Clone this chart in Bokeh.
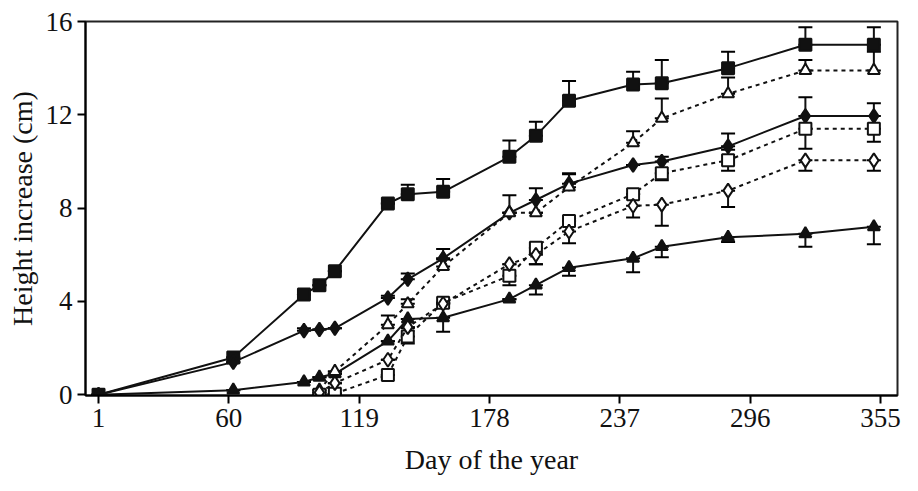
from bokeh.plotting import figure
from bokeh.models import Range1d, FixedTicker, Whisker, ColumnDataSource
from bokeh.embed import file_html
from bokeh.resources import INLINE

days = [1, 62, 94, 101, 108, 132, 141, 157, 187, 199, 214, 243, 256, 286, 321, 352]
days_late = [101, 108, 132, 141, 157, 187, 199, 214, 243, 256, 286, 321, 352]

sq_filled = [0, 1.6, 4.3, 4.7, 5.3, 8.2, 8.6, 8.7, 10.2, 11.1, 12.6, 13.3, 13.35, 14.0, 15.0, 15.0]
sq_filled_up = [0, 0, 0, 0, 0, 0, 0.4, 0.55, 0.7, 0.6, 0.85, 0.55, 1.0, 0.7, 0.75, 0.75]
sq_filled_dn = [0] * 16

dia_filled = [0, 1.4, 2.75, 2.8, 2.85, 4.15, 4.95, 5.85, 7.8, 8.35, 9.05, 9.85, 10.0, 10.65, 11.95, 11.95]
dia_filled_up = [0, 0, 0.1, 0, 0, 0.1, 0.25, 0.4, 0, 0.5, 0.4, 0, 0.2, 0.55, 0.8, 0.55]
dia_filled_dn = [0] * 16

tri_filled = [0, 0.2, 0.55, 0.75, 0.9, 2.3, 3.25, 3.3, 4.1, 4.7, 5.45, 5.85, 6.35, 6.75, 6.9, 7.2]
tri_filled_up = [0] * 16
tri_filled_dn = [0, 0, 0, 0, 0, 0, 0.4, 0.6, 0, 0.4, 0.35, 0.6, 0.45, 0.2, 0.55, 0.75]

tri_open = [0.2, 1.0, 3.0, 3.9, 5.5, 7.8, 7.8, 8.9, 10.8, 11.85, 12.9, 13.9, 13.9]
tri_open_up = [0, 0, 0.4, 0.2, 0.3, 0.75, 0, 0.6, 0.5, 0.85, 0.7, 0.45, 0.8]
tri_open_dn = [0] * 13

sq_open = [0.0, 0.05, 0.85, 2.5, 3.95, 5.1, 6.3, 7.45, 8.6, 9.5, 10.05, 11.4, 11.4]
sq_open_up = [0, 0, 0, 0, 0, 0, 0, 0, 0, 0, 0.45, 0, 0]
sq_open_dn = [0, 0, 0, 0.3, 0, 0.4, 0.7, 0, 0, 0.3, 0.45, 0.85, 0.55]

dia_open = [0.1, 0.5, 1.5, 2.9, 3.9, 5.6, 6.0, 7.0, 8.1, 8.15, 8.75, 10.05, 10.05]
dia_open_up = [0] * 13
dia_open_dn = [0, 0, 0, 0, 0, 0, 0.4, 0.5, 0.5, 0.9, 0.7, 0.45, 0.45]

x_ticks = [1, 60, 119, 178, 237, 296, 355]
y_ticks = [0, 4, 8, 12, 16]

p = figure(width=902, height=481, output_backend="svg", toolbar_location=None,
           x_range=Range1d(-4.9, 362.7), y_range=Range1d(-0.03, 16),
           min_border_left=85, min_border_right=5, min_border_top=21, min_border_bottom=86)
p.grid.visible = False
p.outline_line_color = "#222222"
p.outline_line_width = 2
p.background_fill_color = "white"

series = [
    (days, sq_filled, sq_filled_up, sq_filled_dn, "square", True, "solid", 12),
    (days, dia_filled, dia_filled_up, dia_filled_dn, "diamond", True, "solid", 14),
    (days, tri_filled, tri_filled_up, tri_filled_dn, "triangle", True, "solid", 12),
    (days_late, tri_open, tri_open_up, tri_open_dn, "triangle", False, "4 4", 12),
    (days_late, sq_open, sq_open_up, sq_open_dn, "square", False, "4 4", 12),
    (days_late, dia_open, dia_open_up, dia_open_dn, "diamond", False, "4 4", 14),
]

for xs, ys, up, dn, marker, filled, dash, size in series:
    src = ColumnDataSource(dict(x=xs, y=ys,
                                top=[v + u for v, u in zip(ys, up)],
                                bot=[v - d for v, d in zip(ys, dn)]))
    w = Whisker(base="x", upper="top", lower="bot", source=src, line_color="#111111", line_width=2)
    w.upper_head.size = 14
    w.lower_head.size = 14
    w.upper_head.line_width = 2
    w.lower_head.line_width = 2
    p.add_layout(w)
    p.line("x", "y", source=src, line_color="#111111", line_width=2, line_dash=dash)
    p.scatter("x", "y", source=src, marker=marker, size=size, line_color="#111111", line_width=2,
              fill_color="#111111" if filled else "white")

font = "Liberation Serif"
p.xaxis.ticker = FixedTicker(ticks=x_ticks)
p.yaxis.ticker = FixedTicker(ticks=y_ticks)
for ax in (p.xaxis, p.yaxis):
    ax.major_label_text_font = font
    ax.major_label_text_font_size = "27px"
    ax.major_label_text_color = "#111111"
    ax.axis_label_text_font = font
    ax.axis_label_text_font_size = "28px"
    ax.axis_label_text_font_style = "normal"
    ax.axis_label_text_color = "#111111"
    ax.axis_line_width = 2
    ax.major_tick_line_width = 2
    ax.major_tick_out = 8
    ax.major_tick_in = 0
    ax.minor_tick_line_color = None
p.xaxis.axis_label = "Day of the year"
p.xaxis.axis_label_standoff = 14
p.yaxis.axis_label = "Height increase (cm)"

open("out.html", "w").write(file_html(p, INLINE))
